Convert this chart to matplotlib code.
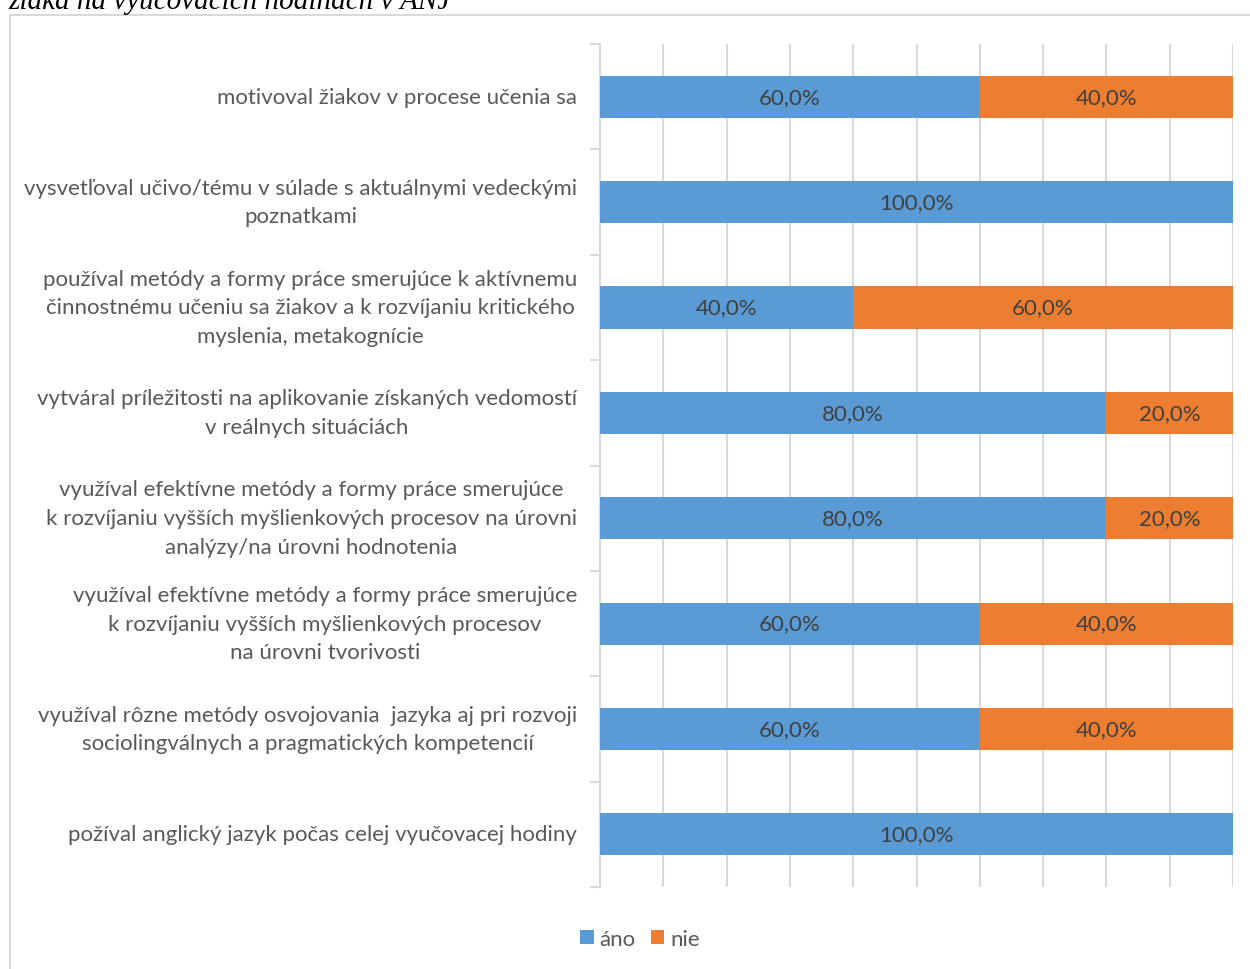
import matplotlib.pyplot as plt
from matplotlib.patches import Rectangle

plt.rcParams['font.family'] = ['Lato', 'DejaVu Sans']

categories = [
    "motivoval žiakov v procese učenia sa",
    "vysvetľoval učivo/tému v súlade s aktuálnymi vedeckými\npoznatkami",
    "používal metódy a formy práce smerujúce k aktívnemu\nčinnostnému učeniu sa žiakov a k rozvíjaniu kritického\nmyslenia, metakognície",
    "vytváral príležitosti na aplikovanie získaných vedomostí\nv reálnych situáciách",
    "využíval efektívne metódy a formy práce smerujúce\nk rozvíjaniu vyšších myšlienkových procesov na úrovni\nanalýzy/na úrovni hodnotenia",
    "využíval efektívne metódy a formy práce smerujúce\nk rozvíjaniu vyšších myšlienkových procesov\nna úrovni tvorivosti",
    "využíval rôzne metódy osvojovania  jazyka aj pri rozvoji\nsociolingválnych a pragmatických kompetencií",
    "požíval anglický jazyk počas celej vyučovacej hodiny",
]
ano = [60, 100, 40, 80, 80, 60, 60, 100]
nie = [40, 0, 60, 20, 20, 40, 40, 0]

blue = '#5B9BD5'
orange = '#ED7D31'
grid = '#d9d9d9'

fig = plt.figure(figsize=(12.5, 9.7), dpi=100)
ax = fig.add_axes([0.48, 0.0845, 0.5064, 0.8691])

n = len(categories)
ypos = list(range(n))
ax.barh(ypos, ano, height=0.4, color=blue, label='áno', zorder=3)
ax.barh(ypos, nie, left=ano, height=0.4, color=orange, label='nie', zorder=3)

for y, a, b in zip(ypos, ano, nie):
    if a > 0:
        ax.text(a / 2, y, f"{a:.1f}%".replace('.', ','), ha='center', va='center',
                fontsize=16, color='#404040', zorder=4)
    if b > 0:
        ax.text(a + b / 2, y, f"{b:.1f}%".replace('.', ','), ha='center', va='center',
                fontsize=16, color='#404040', zorder=4)

ax.set_xlim(0, 100)
ax.set_ylim(n - 0.5, -0.5)
ax.set_xticks(range(0, 101, 10))
ax.tick_params(axis='x', length=0, labelbottom=False)
ax.grid(axis='x', color=grid, linewidth=1.5, zorder=0)

ax.set_yticks([i - 0.5 for i in range(n + 1)])
ax.set_yticklabels([])
ax.tick_params(axis='y', which='major', length=7, color=grid, width=1.5)
ax.set_yticks(ypos, minor=True)
ax.set_yticklabels(categories, minor=True, fontsize=16, color='#595959',
                   multialignment='center', linespacing=1.55, va='center')
ax.tick_params(axis='y', which='minor', length=0, pad=16.5)

for s in ['top', 'right', 'bottom']:
    ax.spines[s].set_visible(False)
ax.spines['left'].set_color(grid)
ax.spines['left'].set_linewidth(1.5)

fig.legend(loc='center', bbox_to_anchor=(0.512, 0.031), ncol=2, frameon=False,
           fontsize=16, labelcolor='#595959', handlelength=0.6, handleheight=0.6,
           handletextpad=0.25, columnspacing=0.7)

fig.patches.append(Rectangle((10 / 1250, -0.01), 1.0, 1 - 16 / 970 + 0.01,
                             transform=fig.transFigure, fill=False,
                             edgecolor=grid, linewidth=1.5))

fig.text(8 / 1250, 1 - 9 / 970, "žiaka na vyučovacích hodinách v ANJ",
         family='Liberation Serif', style='italic', fontsize=21,
         va='baseline', ha='left', color='black')

fig.savefig('out.png', dpi=100)
